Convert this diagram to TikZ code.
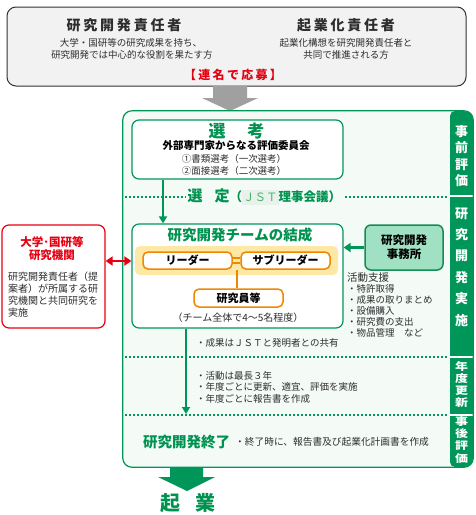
\documentclass[tikz,border=0pt]{standalone}
\usepackage{fontspec}
\setmainfont{Noto Sans CJK JP}
\usetikzlibrary{arrows.meta}
\definecolor{jgreen}{RGB}{0,150,90}
\definecolor{tgreen}{RGB}{0,146,80}
\definecolor{mintbg}{RGB}{244,251,247}
\definecolor{officefill}{RGB}{160,225,195}
\definecolor{officeline}{RGB}{20,140,85}
\definecolor{jorange}{RGB}{240,135,0}
\definecolor{bandfill}{RGB}{253,232,165}
\definecolor{jred}{RGB}{230,0,18}
\definecolor{txtc}{RGB}{45,45,45}
\definecolor{topfill}{RGB}{242,242,242}
\definecolor{topline}{RGB}{50,50,50}
\definecolor{grayarrow}{RGB}{160,160,160}
\definecolor{lightg}{RGB}{70,180,110}
\definecolor{jstbg}{RGB}{232,242,234}
\newcommand\myfs[1]{\fontsize{#1}{#1}\selectfont}
\tikzset{
  lbl/.style={inner sep=0pt, text=txtc},
  topbox/.style={draw=topline, line width=1pt, fill=topfill, rounded corners=9pt, inner sep=0pt},
  gbox/.style={draw=jgreen, line width=1.2pt, fill=white, rounded corners=7pt, inner sep=0pt},
  obox/.style={draw=jorange, line width=1.5pt, fill=white, rounded corners=5pt, inner sep=0pt},
  rbox/.style={draw=jred, line width=1.2pt, fill=white, rounded corners=7pt, inner sep=0pt},
  offbox/.style={draw=officeline, line width=1.5pt, fill=officefill, rounded corners=6pt, inner sep=0pt},
  sidetxt/.style={inner sep=0pt, text=white, font=\fontsize{13}{16.4}\selectfont\bfseries, align=center},
  dotline/.style={draw=jgreen, line width=1.5pt, dash pattern=on 1.5pt off 2.5pt},
  garrow/.style={draw=jgreen, line width=2.2pt, -{Triangle[width=8pt,length=7pt]}},
  rarrow/.style={draw=jred, line width=2.5pt, {Triangle[width=9pt,length=7pt]}-{Triangle[width=9pt,length=7pt]}},
  gtitle/.style={inner sep=0pt, text=tgreen, font=\myfs{#1}\bfseries},
}
\begin{document}
\begin{tikzpicture}[x=1pt,y=-1pt]
\useasboundingbox (0,0) rectangle (475,515);
\fill[white] (0,0) rectangle (475,515);

% ---------- top box ----------
\node[topbox, minimum width=459pt, minimum height=79pt] (top) at (236.5,46.5) {};
\node[lbl, font=\myfs{14}\bfseries\addfontfeature{LetterSpace=20}] (t1) at (124,25) {研究開発責任者};
\node[lbl, font=\myfs{14}\bfseries\addfontfeature{LetterSpace=20}] (t2) at (346,25) {起業化責任者};
\node[lbl, font=\myfs{9.5}] (t1a) at (131,43) {大学・国研等の研究成果を持ち、};
\node[lbl, font=\myfs{9.5}] (t1b) at (132,54.5) {研究開発では中心的な役割を果たす方};
\node[lbl, font=\myfs{9.5}] (t2a) at (346,43) {起業化構想を研究開発責任者と};
\node[lbl, font=\myfs{9.5}] (t2b) at (346,54.5) {共同で推進される方};
\node[inner sep=0pt, text=jred, font=\myfs{12}\bfseries\addfontfeature{LetterSpace=19}] (oubo) at (233,75) {【連名で応募】};

% gray block arrow
\fill[grayarrow] (213,86) -- (247,86) -- (247,98) -- (258,98) -- (230,111) -- (202,98) -- (213,98) -- cycle;

% ---------- main green frame ----------
\node[inner sep=0pt, fill=mintbg, rounded corners=9pt, minimum width=350pt, minimum height=356pt] (main) at (298,289) {};
\begin{scope}
  \clip[rounded corners=9pt] (123,111) rectangle (473,467);
  \fill[jgreen, rounded corners=5pt] (450,111) rectangle (478,467);
  \draw[white, line width=1.6pt] (450,196) -- (473,196);
  \draw[white, line width=1.6pt] (450,357) -- (473,357);
  \draw[white, line width=1.6pt] (450,415) -- (473,415);
\end{scope}
\draw[jgreen, line width=1.2pt, rounded corners=9pt] (main.north west) rectangle (main.south east);

% sidebar labels
\node[sidetxt] (s1) at (461.5,156) {事\\前\\評\\価};
\node[sidetxt, font=\fontsize{13}{21.4}\selectfont\bfseries] (s2) at (461.5,267) {研\\究\\開\\発\\実\\施};
\node[inner sep=0pt, text=white, font=\fontsize{13}{14}\selectfont\bfseries] (s3) at (461.5,386)
  {\scalebox{1}[0.8]{\begin{tabular}{@{}c@{}}年\\度\\更\\新\end{tabular}}};
\node[inner sep=0pt, text=white, font=\fontsize{13}{14}\selectfont\bfseries] (s4) at (461.5,441)
  {\scalebox{1}[0.8]{\begin{tabular}{@{}c@{}}事\\後\\評\\価\end{tabular}}};

% dotted separators
\draw[dotline] (125,197) -- (449,197);
\draw[dotline] (125,357) -- (449,357);
\draw[dotline] (125,415) -- (449,415);

% ---------- selection ----------
\node[gbox, minimum width=211pt, minimum height=59pt] (sel) at (237.5,149.5) {};
\node[gtitle=17] (selt) at (236.5,131) {選\hspace{22pt}考};
\node[lbl, text=black, font=\myfs{10.5}\bfseries] (selc) at (236,146) {外部専門家からなる評価委員会};
\node[lbl, font=\myfs{9.5}] (sel1) at (234,158.5) {①書類選考（一次選考）};
\node[lbl, font=\myfs{9.5}] (sel2) at (234,170.5) {②面接選考（二次選考）};

% selection decision
\node[inner sep=1.5pt, fill=mintbg, anchor=west] (sentei) at (186,197)
  {{\color{tgreen}\myfs{15}\bfseries 選\hspace{12pt}定}{\color{tgreen}\myfs{12.5}\bfseries（}\colorbox{jstbg}{\hspace{-2pt}\color{lightg}\myfs{11.5}ＪＳＴ\hspace{-2pt}}{\color{tgreen}\myfs{12.5}\bfseries 理事会議）}};

% ---------- team ----------
\node[gbox, minimum width=211pt, minimum height=104pt] (team) at (237.5,276) {};
\node[gtitle=14.5] (teamt) at (240,235) {研究開発チームの結成};
\node[inner sep=0pt, fill=bandfill, rounded corners=5pt, minimum width=203pt, minimum height=29pt] (band) at (236.5,260.5) {};
\node[obox, minimum width=89pt, minimum height=17pt, text=black, font=\myfs{11}\bfseries] (leader) at (187.5,260.5) {リーダー};
\node[obox, minimum width=89pt, minimum height=17pt, text=black, font=\myfs{11}\bfseries] (sub) at (285.5,260.5) {サブリーダー};
\draw[jorange, line width=1.3pt] ([yshift=2.5pt]leader.east) -- ([yshift=2.5pt]sub.west);
\draw[jorange, line width=1.3pt] ([yshift=-2.5pt]leader.east) -- ([yshift=-2.5pt]sub.west);
\node[obox, minimum width=89pt, minimum height=18pt, text=black, font=\myfs{11}\bfseries] (res) at (238.5,298) {研究員等};
\coordinate (vx) at (237,0);
\draw[jorange, line width=1.3pt] (res.north -| vx) -- (leader.south -| vx);
\node[lbl, font=\myfs{10}] (teamn) at (238,318) {（チーム全体で4～5名程度）};

% arrow selection -> team
\coordinate (ax) at (163,0);
\draw[garrow] (sel.south -| ax) -- (team.north -| ax);

% ---------- university box ----------
\node[rbox, minimum width=103pt, minimum height=103pt] (univ) at (53.5,276.5) {};
\node[inner sep=0pt, text=jred, font=\myfs{11.5}\bfseries] (univt1) at (52,242) {大学･国研等};
\node[inner sep=0pt, text=jred, font=\myfs{11.5}\bfseries] (univt2) at (52,255) {研究機関};
\node[lbl, anchor=west, font=\myfs{10}] (u1) at (8,277) {研究開発責任者（提};
\node[lbl, anchor=west, font=\myfs{10}] (u2) at (8,289) {案者）が所属する研};
\node[lbl, anchor=west, font=\myfs{10}] (u3) at (8,301) {究機関と共同研究を};
\node[lbl, anchor=west, font=\myfs{10}] (u4) at (8,313) {実施};
\coordinate (ry) at (0,261);
\draw[rarrow] (univ.east |- ry) -- (team.west |- ry);

% ---------- office ----------
\node[offbox, minimum width=78pt, minimum height=45pt, text=black, font=\fontsize{11.5}{14}\selectfont\bfseries, align=center] (office) at (404,247.5) {研究開発\\事務所};
\draw[garrow, line width=2.5pt, -{Triangle[width=9pt,length=7pt]}] (office.west) -- (team.east |- office.west);

\node[lbl, anchor=west, font=\myfs{10.5}] (act) at (347,278) {活動支援};
\node[lbl, anchor=west, font=\myfs{9.5}] (act1) at (347,289) {・特許取得};
\node[lbl, anchor=west, font=\myfs{9.5}] (act2) at (347,300) {・成果の取りまとめ};
\node[lbl, anchor=west, font=\myfs{9.5}] (act3) at (347,311) {・設備購入};
\node[lbl, anchor=west, font=\myfs{9.5}] (act4) at (347,322) {・研究費の支出};
\node[lbl, anchor=west, font=\myfs{9.5}] (act5) at (347,333) {・物品管理\hspace{9.5pt}など};

% ---------- development ----------
\node[lbl, anchor=west, font=\myfs{9.5}] (share) at (196,343) {・成果はＪＳＴと発明者との共有};
\coordinate (dx) at (186,0);
\coordinate (dend) at (186,414);
\draw[garrow] (team.south -| dx) -- (dend);
\node[lbl, anchor=west, font=\myfs{9.5}] (y1) at (196,375.5) {・活動は最長３年};
\node[lbl, anchor=west, font=\myfs{9.5}] (y2) at (196,387) {・年度ごとに更新、適宜、評価を実施};
\node[lbl, anchor=west, font=\myfs{9.5}] (y3) at (196,398.5) {・年度ごとに報告書を作成};

% ---------- end ----------
\node[gtitle=14.5, anchor=west] (endt) at (143,442) {研究開発終了};
\node[lbl, anchor=west, font=\myfs{9.7}] (endn) at (235,442) {・終了時に、報告書及び起業化計画書を作成};

% big green arrow and result
\fill[jgreen] (170,467) -- (203,467) -- (203,477) -- (215,477) -- (187,491) -- (158,477) -- (170,477) -- cycle;
\node[gtitle=20] (kigyo) at (187.5,503) {起\hspace{15pt}業};
\end{tikzpicture}
\end{document}
